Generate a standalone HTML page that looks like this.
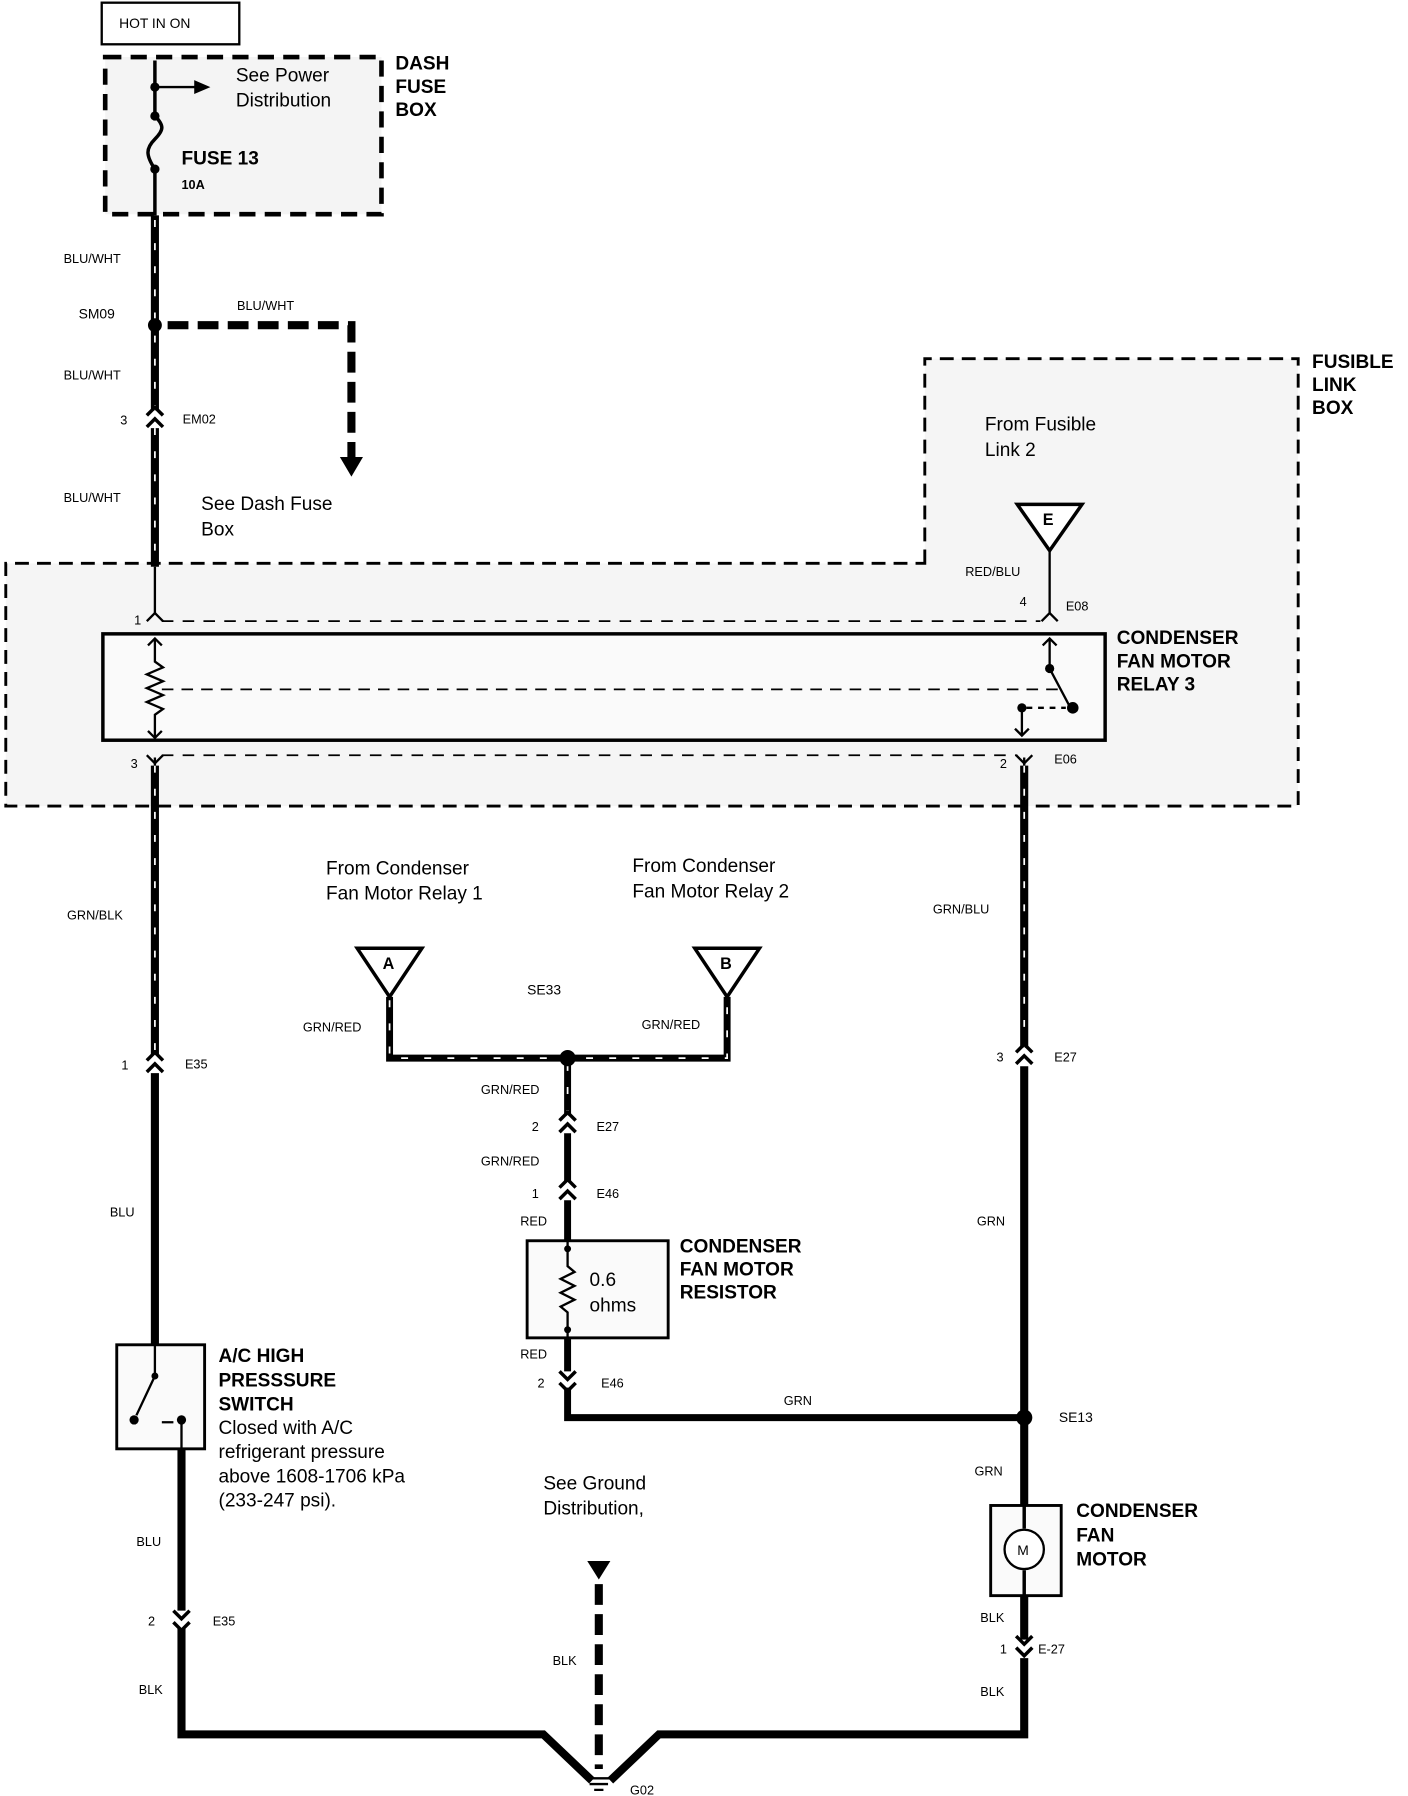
<!DOCTYPE html>
<html><head><meta charset="utf-8"><style>
html,body{margin:0;padding:0;background:#fff;}
svg{display:block;}
text{font-family:"Liberation Sans",Arial,sans-serif;fill:#000;}
.s{font-size:11px;}
.m{font-size:16.5px;}
.b{font-size:16.5px;font-weight:bold;}
</style></head><body>
<svg width="1408" height="1796" viewBox="0 0 1218 1553" xmlns="http://www.w3.org/2000/svg">
<defs>
<g id="cn"><path d="M-7,-3 L0,-10 L7,-3 M-7,7 L0,0 L7,7" fill="none" stroke="#000" stroke-width="3"/></g>
<g id="cd"><path d="M-7,-7 L0,0 L7,-7 M-7,3 L0,10 L7,3" fill="none" stroke="#000" stroke-width="3"/></g>
</defs>
<rect width="1218" height="1553" fill="#fff"/>
<!-- HOT IN ON -->
<rect x="88" y="2" width="119" height="36" fill="#fff" stroke="#000" stroke-width="2"/>
<text x="103" y="24" class="s" style="font-size:12px">HOT IN ON</text>
<!-- Dash fuse box -->
<rect x="91" y="49" width="239" height="136" fill="#f4f4f4" stroke="#000" stroke-width="4" stroke-dasharray="14,8"/>
<text x="342" y="60" class="b">DASH</text><text x="342" y="80" class="b">FUSE</text><text x="342" y="100" class="b">BOX</text>
<path d="M134,52 L134,100 M134,146 L134,186" stroke="#000" stroke-width="3" fill="none"/>
<path d="M134,100 C142,108 142,112 134,120 C126,128 126,134 134,146" stroke="#000" stroke-width="3" fill="none"/>
<circle cx="134" cy="75" r="4"/><circle cx="134" cy="100" r="4"/><circle cx="134" cy="146" r="4"/>
<path d="M134,75 L170,75" stroke="#000" stroke-width="2"/><path d="M168,69 L182,75 L168,81Z"/>
<text x="204" y="70" class="m">See Power</text><text x="204" y="92" class="m">Distribution</text>
<text x="157" y="142" class="b">FUSE 13</text><text x="157" y="163" class="s" style="font-weight:bold">10A</text>
<!-- fusible link box -->
<path d="M800,487 L800,310 L1123,310 L1123,697 L5,697 L5,487 Z" fill="#f5f5f5" stroke="#000" stroke-width="2.5" stroke-dasharray="12,7"/>
<text x="1135" y="318" class="b">FUSIBLE</text><text x="1135" y="338" class="b">LINK</text><text x="1135" y="358" class="b">BOX</text>
<text x="852" y="372" class="m">From Fusible</text><text x="852" y="394" class="m">Link 2</text>
<!-- main left wire -->
<g stroke="#000" stroke-width="7" fill="none">
<path d="M134,186 L134,355 M134,370 L134,490"/>
<path d="M134,662 L134,912 M134,928 L134,1163"/>
<path d="M157,1253 L157,1393 M157,1408 L157,1500 L470,1500 L512,1540 M886,662 L886,906 M886,922 L886,1302 M886,1380 L886,1418 M886,1434 L886,1500 L570,1500 L528,1540"/>
<path d="M337,862 L337,915 L629,915 L629,862 M491,915 L491,965 M491,980 L491,1022 M491,1038 L491,1073 M491,1157 L491,1186 M491,1200 L491,1226 L886,1226" stroke-width="6"/>
</g>
<g stroke="#fff" stroke-width="1.5" fill="none" stroke-dasharray="6,14">
<path d="M134,190 L134,355 M134,370 L134,490 M134,662 L134,912 M886,662 L886,906 M337,865 L337,915 L629,915 L629,865 M491,920 L491,965"/>
</g>
<path d="M134,490 L134,530 M134,655 L134,662 M908,476 L908,530 M886,655 L886,662" stroke="#000" stroke-width="2"/>
<!-- SM09 branch -->
<circle cx="134" cy="281" r="6"/>
<path d="M145,281 L304,281 L304,395" stroke="#000" stroke-width="7" fill="none" stroke-dasharray="18,8"/>
<path d="M294,395 L314,395 L304,412Z"/>
<text x="205" y="268" class="s">BLU/WHT</text>
<text x="55" y="227" class="s">BLU/WHT</text><text x="68" y="275" class="s" style="font-size:12px">SM09</text>
<text x="55" y="328" class="s">BLU/WHT</text><text x="55" y="434" class="s">BLU/WHT</text>
<use href="#cn" x="134" y="362"/><text x="104" y="367" class="s">3</text><text x="158" y="366" class="s">EM02</text>
<text x="174" y="441" class="m">See Dash Fuse</text><text x="174" y="463" class="m">Box</text>
<!-- E triangle -->
<path d="M880,436 L936,436 L908,476Z" fill="#fff" stroke="#000" stroke-width="3"/>
<text x="902" y="454" class="b" style="font-size:14px">E</text>
<text x="835" y="498" class="s">RED/BLU</text>
<text x="882" y="524" class="s">4</text><text x="922" y="528" class="s">E08</text>
<!-- relay connector dashes -->
<path d="M140,537 L900,537 M140,653 L880,653" stroke="#000" stroke-width="1.5" stroke-dasharray="10,8"/>
<path d="M127,537 L134,530 L141,537 M901,537 L908,530 L915,537" stroke="#000" stroke-width="2" fill="none"/>
<path d="M127,653 L134,660 L141,653 M879,653 L886,660 L893,653" stroke="#000" stroke-width="2" fill="none"/>
<text x="116" y="540" class="s">1</text><text x="113" y="664" class="s">3</text><text x="865" y="664" class="s">2</text><text x="912" y="660" class="s">E06</text>
<!-- relay box -->
<rect x="89" y="548" width="867" height="92" fill="#fafafa" stroke="#000" stroke-width="3"/>
<text x="966" y="557" class="b">CONDENSER</text><text x="966" y="577" class="b">FAN MOTOR</text><text x="966" y="597" class="b">RELAY 3</text>
<path d="M134,552 L134,572 L141,577 L127,583 L141,589 L127,595 L141,601 L127,607 L141,613 L134,618 L134,638" stroke="#000" stroke-width="2" fill="none"/>
<path d="M128,558 L134,552 L140,558 M128,632 L134,638 L140,632" stroke="#000" stroke-width="2" fill="none"/>
<path d="M140,596 L916,596" stroke="#000" stroke-width="1.5" stroke-dasharray="10,7"/>
<path d="M908,552 L908,578 L926,612 M902,558 L908,552 L914,558" stroke="#000" stroke-width="2" fill="none"/>
<circle cx="908" cy="578" r="4"/><circle cx="928" cy="612" r="5"/><circle cx="884" cy="612" r="4"/>
<path d="M888,612 L922,612" stroke="#000" stroke-width="2" stroke-dasharray="5,5"/>
<path d="M884,612 L884,636 M878,630 L884,636 L890,630" stroke="#000" stroke-width="2" fill="none"/>
<!-- left wire labels -->
<text x="58" y="795" class="s">GRN/BLK</text>
<use href="#cn" x="134" y="920"/><text x="105" y="925" class="s">1</text><text x="160" y="924" class="s">E35</text>
<text x="95" y="1052" class="s">BLU</text>
<!-- AC switch -->
<rect x="101" y="1163" width="76" height="90" fill="#fafafa" stroke="#000" stroke-width="2.5"/>
<path d="M134,1163 L134,1190 L118,1224 M157,1253 L157,1230 M140,1230 L150,1230" stroke="#000" stroke-width="2" fill="none" stroke-dasharray="none"/>
<circle cx="134" cy="1190" r="3"/><circle cx="116" cy="1228" r="4"/><circle cx="157" cy="1228" r="4"/>
<text x="189" y="1178" class="b">A/C HIGH</text><text x="189" y="1199" class="b">PRESSSURE</text><text x="189" y="1220" class="b">SWITCH</text>
<text x="189" y="1240" class="m">Closed with A/C</text><text x="189" y="1261" class="m">refrigerant pressure</text>
<text x="189" y="1282" class="m">above 1608-1706 kPa</text><text x="189" y="1303" class="m">(233-247 psi).</text>
<text x="118" y="1337" class="s">BLU</text>
<use href="#cd" x="157" y="1400"/><text x="128" y="1406" class="s">2</text><text x="184" y="1406" class="s">E35</text>
<text x="120" y="1465" class="s">BLK</text>
<!-- middle -->
<text x="282" y="756" class="m">From Condenser</text><text x="282" y="778" class="m">Fan Motor Relay 1</text>
<text x="547" y="754" class="m">From Condenser</text><text x="547" y="776" class="m">Fan Motor Relay 2</text>
<path d="M309,820 L365,820 L337,862Z" fill="#fff" stroke="#000" stroke-width="3"/><text x="331" y="838" class="b" style="font-size:14px">A</text>
<path d="M601,820 L657,820 L629,862Z" fill="#fff" stroke="#000" stroke-width="3"/><text x="623" y="838" class="b" style="font-size:14px">B</text>
<text x="456" y="860" class="s" style="font-size:12px">SE33</text>
<text x="262" y="892" class="s">GRN/RED</text><text x="555" y="890" class="s">GRN/RED</text>
<circle cx="491" cy="915" r="7"/>
<text x="416" y="946" class="s">GRN/RED</text>
<use href="#cn" x="491" y="972"/><text x="460" y="978" class="s">2</text><text x="516" y="978" class="s">E27</text>
<text x="416" y="1008" class="s">GRN/RED</text>
<use href="#cn" x="491" y="1030"/><text x="460" y="1036" class="s">1</text><text x="516" y="1036" class="s">E46</text>
<text x="450" y="1060" class="s">RED</text>
<rect x="456" y="1073" width="122" height="84" fill="#fafafa" stroke="#000" stroke-width="2.5"/>
<path d="M491,1073 L491,1095 L497,1100 L485,1106 L497,1112 L485,1118 L497,1124 L485,1130 L491,1135 L491,1157" stroke="#000" stroke-width="2" fill="none"/>
<circle cx="491" cy="1080" r="3"/><circle cx="491" cy="1150" r="3"/>
<text x="510" y="1112" class="m">0.6</text><text x="510" y="1134" class="m">ohms</text>
<text x="588" y="1083" class="b">CONDENSER</text><text x="588" y="1103" class="b">FAN MOTOR</text><text x="588" y="1123" class="b">RESISTOR</text>
<text x="450" y="1175" class="s">RED</text>
<use href="#cd" x="491" y="1193"/><text x="465" y="1200" class="s">2</text><text x="520" y="1200" class="s">E46</text>
<text x="678" y="1215" class="s">GRN</text>
<!-- ground -->
<text x="470" y="1288" class="m">See Ground</text><text x="470" y="1310" class="m">Distribution,</text>
<path d="M508,1350 L528,1350 L518,1366Z"/>
<path d="M518,1370 L518,1530" stroke="#000" stroke-width="7" stroke-dasharray="18,8"/>
<text x="478" y="1440" class="s">BLK</text>
<path d="M507,1538 L529,1538 M510,1543 L526,1543 M514,1548 L522,1548" stroke="#000" stroke-width="2"/>
<text x="545" y="1552" class="s">G02</text>
<!-- right -->
<text x="807" y="790" class="s">GRN/BLU</text>
<use href="#cn" x="886" y="913"/><text x="862" y="918" class="s">3</text><text x="912" y="918" class="s">E27</text>
<text x="845" y="1060" class="s">GRN</text>
<circle cx="886" cy="1226" r="7"/><text x="916" y="1230" class="s" style="font-size:12px">SE13</text>
<text x="843" y="1276" class="s">GRN</text>
<rect x="857" y="1302" width="61" height="78" fill="#fafafa" stroke="#000" stroke-width="2.5"/>
<path d="M886,1302 L886,1322 M886,1358 L886,1380" stroke="#000" stroke-width="3"/>
<circle cx="886" cy="1340" r="17" fill="#fff" stroke="#000" stroke-width="2"/>
<text x="880" y="1345" class="s" style="font-size:12px">M</text>
<text x="931" y="1312" class="b">CONDENSER</text><text x="931" y="1333" class="b">FAN</text><text x="931" y="1354" class="b">MOTOR</text>
<text x="848" y="1403" class="s">BLK</text>
<use href="#cd" x="886" y="1422"/><text x="865" y="1430" class="s">1</text><text x="898" y="1430" class="s">E-27</text>
<text x="848" y="1467" class="s">BLK</text>
</svg>
</body></html>
